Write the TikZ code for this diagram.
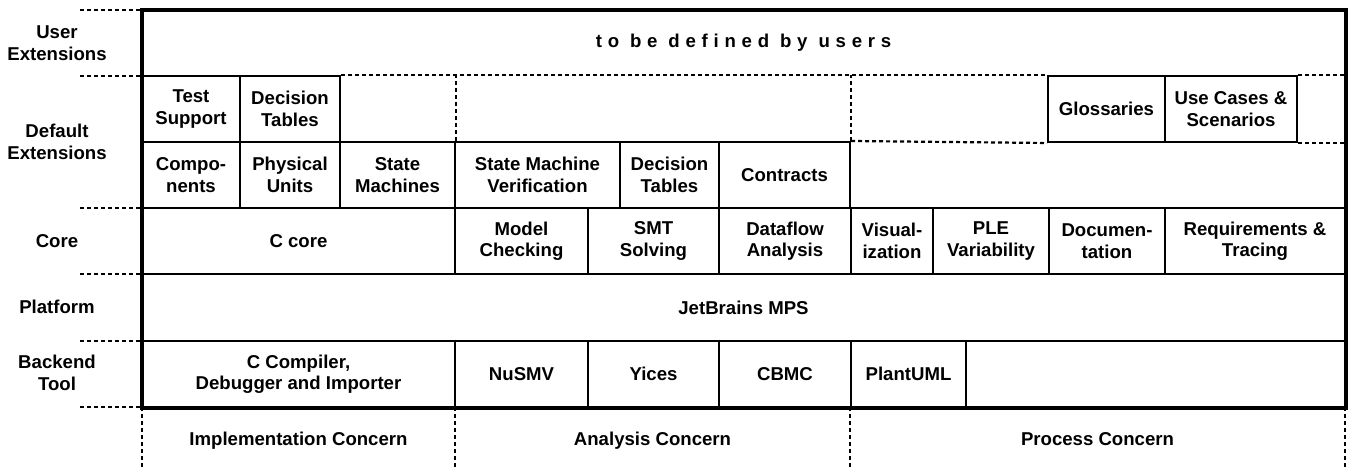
\documentclass[tikz,border=0pt]{standalone}
\usepackage{fontspec}
\setmainfont{Liberation Sans}
\newfontfamily\spacedfont[LetterSpace=31]{Liberation Sans}
\tikzstyle{cell}=[draw, line width=2pt, inner sep=0pt, align=center, minimum height=66pt]
\tikzstyle{layer}=[align=center, inner sep=0pt]
\tikzstyle{marker}=[line width=2.2pt, dash pattern=on 4pt off 3pt]
\tikzstyle{frame}=[line width=3.5pt]

\begin{document}
\begin{tikzpicture}[x=1pt, y=-1pt, font={\fontsize{18.6}{21.5}\selectfont\bfseries}]
\useasboundingbox (0,0) rectangle (1352,470);
% layer names
\node[layer] at (57, 43) (luser) {User\\Extensions};
\node[layer] at (57, 142) (ldefault) {Default\\Extensions};
\node[layer] at (57, 241) (lcore) {Core};
\node[layer] at (57, 307) (lplatform) {Platform};
\node[layer] at (57, 373) (lbackend) {Backend\\Tool};
% user extensions
\node[layer, minimum width=1203pt, minimum height=66pt] at (743.5, 43) (users) {\spacedfont\bfseries to be defined by users};
% default extensions
\node[cell, minimum width=98pt] at (191, 109) (test) {Test\\Support};
\node[cell, minimum width=100pt] at (290, 109) (dtab1) {Decision\\Tables};
\node[cell, minimum width=117pt] at (1106.5, 109) (gloss) {Glossaries};
\node[cell, minimum width=132pt] at (1231, 109) (usecase) {Use Cases \&\\Scenarios};
\node[cell, minimum width=98pt] at (191, 175) (comp) {Compo-\\nents};
\node[cell, minimum width=100pt] at (290, 175) (phys) {Physical\\Units};
\node[cell, minimum width=115pt] at (397.5, 175) (sm) {State\\Machines};
\node[cell, minimum width=165pt] at (537.5, 175) (smv) {State Machine\\Verification};
\node[cell, minimum width=99pt] at (669.5, 175) (dtab2) {Decision\\Tables};
\node[cell, minimum width=131pt] at (784.5, 175) (contr) {Contracts};
% core
\node[cell, minimum width=313pt] at (298.5, 241) (ccore) {C core};
\node[cell, minimum width=133pt] at (521.5, 241) (mc) {Model\\Checking};
\node[cell, minimum width=131pt] at (653.5, 241) (smt) {SMT\\Solving};
\node[cell, minimum width=132pt] at (785, 241) (dfa) {Dataflow\\Analysis};
\node[cell, minimum width=82pt] at (892, 241) (vis) {Visual-\\ization};
\node[cell, minimum width=116pt] at (991, 241) (ple) {PLE\\Variability};
\node[cell, minimum width=116pt] at (1107, 241) (doc) {Documen-\\tation};
\node[cell, minimum width=180pt] at (1255, 241) (req) {Requirements \&\\Tracing};
% platform
\node[cell, minimum width=1203pt, minimum height=67pt] at (743.5, 307.5) (mps) {JetBrains MPS};
% backend tools
\node[cell, minimum width=313pt] at (298.5, 374) (ccomp) {C Compiler,\\Debugger and Importer};
\node[cell, minimum width=133pt] at (521.5, 374) (nusmv) {NuSMV};
\node[cell, minimum width=131pt] at (653.5, 374) (yices) {Yices};
\node[cell, minimum width=132pt] at (785, 374) (cbmc) {CBMC};
\node[cell, minimum width=115pt] at (908.5, 374) (plant) {PlantUML};
\node[cell, minimum width=379pt] at (1155.5, 374) (spare) {};
% concerns
\node[layer, anchor=base] at (298.5, 445) (impl) {Implementation Concern};
\node[layer, anchor=base] at (652.5, 445) (anal) {Analysis Concern};
\node[layer, anchor=base] at (1097.5, 445) (proc) {Process Concern};
% open slots
\draw[marker] (dtab1.north east) -- (gloss.north west);
\draw[marker] (usecase.north east) -- (usecase.north east -| req.east);
\draw[marker] (contr.north east) -- (gloss.south west);
\draw[marker] (usecase.south east) -- (usecase.south east -| req.east);
\draw[marker] (sm.north east) -- (sm.north east |- dtab1.north);
\draw[marker] (contr.north east) -- (contr.north east |- dtab1.north);
% frame
\draw[frame] (users.north west) rectangle (req.east |- ccomp.south);
\foreach \y in {10, 76, 208, 274, 341, 407}
  \draw[marker] (80, \y) -- (142, \y);
\foreach \x in {142, 455, 850, 1345}
  \draw[marker] (\x, 407) -- (\x, 470);
\end{tikzpicture}
\end{document}
